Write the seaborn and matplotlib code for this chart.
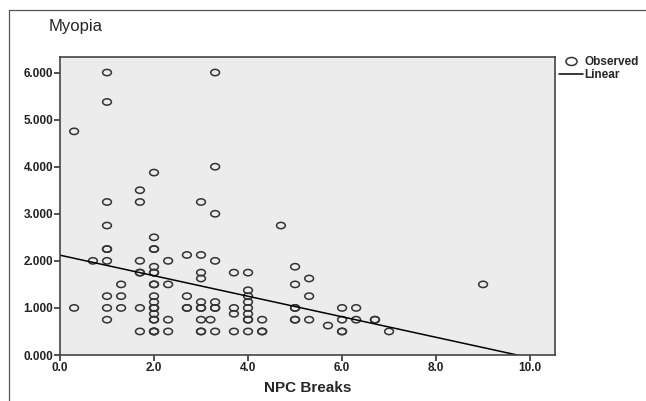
import numpy as np
import pandas as pd
import matplotlib
matplotlib.use("Agg")
import matplotlib.pyplot as plt
from matplotlib.path import Path
from matplotlib.lines import Line2D
from matplotlib.ticker import FormatStrFormatter
import seaborn as sns

# values (bold circles = repeated points)
npc_breaks = (
    [0.3, 0.3, 0.7]
    + [1.0] * 10
    + [1.3] * 3
    + [1.7] * 7
    + [2.0] * 20
    + [2.3] * 4
    + [2.7] * 4
    + [3.0] * 10
    + [3.2]
    + [3.3] * 8
    + [3.7] * 4
    + [4.0] * 9
    + [4.3] * 3
    + [4.7]
    + [5.0] * 6
    + [5.3] * 3
    + [5.7]
    + [6.0] * 4
    + [6.3] * 2
    + [6.7] * 2
    + [7.0, 9.0]
)
myopia = (
    [4.75, 1.0, 2.0]
    + [6.0, 5.375, 3.25, 2.75, 2.25, 2.25, 2.0, 1.25, 1.0, 0.75]
    + [1.5, 1.25, 1.0]
    + [3.5, 3.25, 2.0, 1.75, 1.75, 1.0, 0.5]
    + [3.875, 2.5, 2.25, 2.25, 1.875, 1.75, 1.75, 1.5, 1.5, 1.25,
       1.125, 1.0, 1.0, 1.0, 0.875, 0.75, 0.75, 0.5, 0.5, 0.5]
    + [2.0, 1.5, 0.75, 0.5]
    + [2.125, 1.25, 1.0, 1.0]
    + [3.25, 2.125, 1.75, 1.625, 1.125, 1.0, 1.0, 0.75, 0.5, 0.5]
    + [0.75]
    + [6.0, 4.0, 3.0, 2.0, 1.125, 1.0, 1.0, 0.5]
    + [1.75, 1.0, 0.875, 0.5]
    + [1.75, 1.375, 1.25, 1.125, 1.0, 0.875, 0.75, 0.75, 0.5]
    + [0.75, 0.5, 0.5]
    + [2.75]
    + [1.875, 1.5, 1.0, 1.0, 0.75, 0.75]
    + [1.625, 1.25, 0.75]
    + [0.625]
    + [1.0, 0.75, 0.5, 0.5]
    + [1.0, 0.75]
    + [0.75, 0.75]
    + [0.5, 1.5]
)
# linear fit line as drawn in the reference
fit_intercept = 2.12
fit_slope = -0.218
x_ticks = [0, 2, 4, 6, 8, 10]
y_ticks = [0, 1, 2, 3, 4, 5, 6]
x_max, y_max = 10.53, 6.33

df = pd.DataFrame({"NPC Breaks": npc_breaks, "Myopia": myopia})
fit_x = np.array([0.0, x_max])
fit = pd.DataFrame({"x": fit_x, "y": fit_intercept + fit_slope * fit_x})

sns.set_style("white")
plt.rcParams["font.family"] = ["Liberation Sans", "DejaVu Sans"]

fig = plt.figure(figsize=(6.46, 4.01), dpi=100)
ax = fig.add_axes([60 / 646, 46 / 401, 495 / 646, 298 / 401])
ax.set_facecolor("#ececec")

# slightly wide open circle like the SPSS output
circ = Path.unit_circle()
ell = Path(circ.vertices * [1.0, 0.72], circ.codes)

sns.scatterplot(data=df, x="NPC Breaks", y="Myopia", ax=ax, marker=ell, s=40,
                facecolors="none", edgecolor="#333333", linewidth=1.1)
sns.lineplot(data=fit, x="x", y="y", ax=ax, color="black", lw=1.1)

ax.set_xlim(0, x_max)
ax.set_ylim(0, y_max)
ax.set_xticks(x_ticks)
ax.set_yticks(y_ticks)
ax.xaxis.set_major_formatter(FormatStrFormatter("%.1f"))
ax.yaxis.set_major_formatter(FormatStrFormatter("%.3f"))
ax.tick_params(direction="out", length=4, width=1.2, color="#333333",
               labelsize=8.5, labelcolor="#222222", pad=1,
               bottom=True, left=True)
for lab in ax.get_xticklabels() + ax.get_yticklabels():
    lab.set_fontweight("bold")
for sp in ax.spines.values():
    sp.set_color("#444444")
    sp.set_linewidth(1.2)

ax.set_xlabel("NPC Breaks", fontsize=11, fontweight="bold", labelpad=5)
ax.set_ylabel("")
fig.text(49 / 646, 1 - 31 / 401, "Myopia", fontsize=12, va="baseline", ha="left")

handles = [
    Line2D([], [], ls="none", marker=ell, markersize=8, markerfacecolor="none",
           markeredgecolor="#333333", markeredgewidth=1.1),
    Line2D([], [], color="black", lw=1.1),
]
fig.legend(handles, ["Observed", "Linear"], loc="upper left",
           bbox_to_anchor=(559 / 646, 1 - 56 / 401), frameon=False,
           prop=dict(size=8.5, weight="bold"), handlelength=2.0, handletextpad=0.15,
           labelspacing=0.1, borderaxespad=0, borderpad=0)

# outer frame lines at top and left
fig.add_artist(Line2D([9 / 646, 1], [1 - 10 / 401] * 2, color="#555555", lw=0.9))
fig.add_artist(Line2D([9 / 646] * 2, [0, 1 - 10 / 401], color="#555555", lw=0.9))

fig.savefig("out.png", dpi=100)
